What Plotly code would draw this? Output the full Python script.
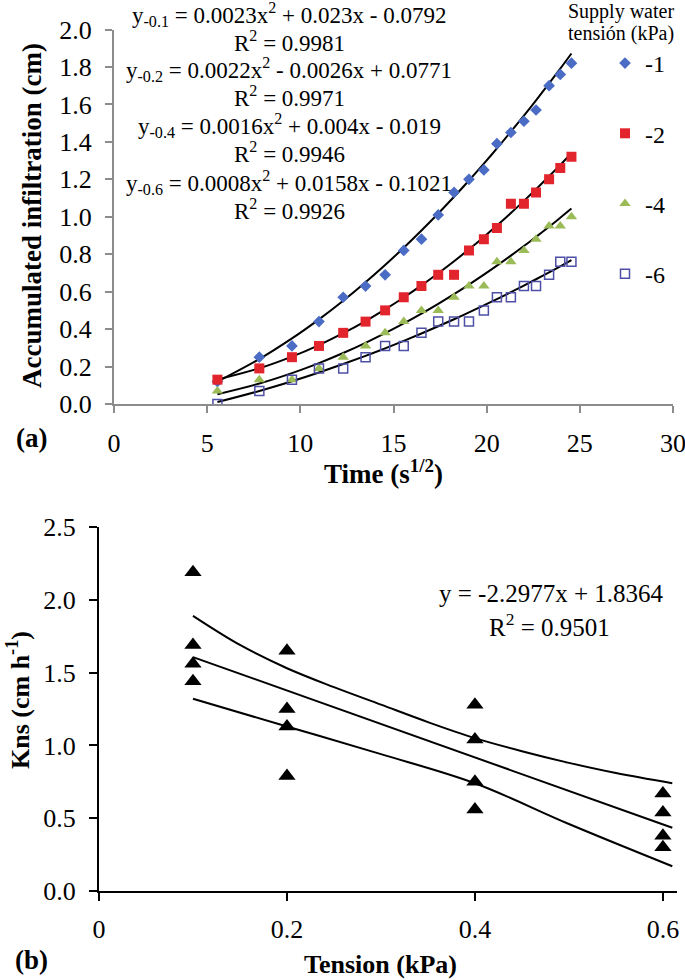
import numpy as np
import plotly.graph_objects as go

# (a) accumulated infiltration vs sqrt(time)
time_sqrt = [5.55, 7.8, 9.55, 11.0, 12.3, 13.5, 14.55, 15.55, 16.5, 17.4,
             18.25, 19.05, 19.85, 20.55, 21.3, 22.0, 22.65, 23.35, 23.95, 24.55]
inf_1 = [0.12, 0.25, 0.31, 0.44, 0.57, 0.63, 0.69, 0.82, 0.88, 1.01,
         1.13, 1.20, 1.25, 1.39, 1.45, 1.51, 1.57, 1.70, 1.76, 1.82]
inf_2 = [0.13, 0.19, 0.25, 0.31, 0.38, 0.44, 0.50, 0.57, 0.63, 0.69,
         0.69, 0.82, 0.88, 0.94, 1.07, 1.07, 1.13, 1.20, 1.26, 1.32]
inf_4 = [0.07, 0.13, 0.13, 0.19, 0.25, 0.31, 0.38, 0.44, 0.50, 0.50,
         0.57, 0.63, 0.63, 0.76, 0.76, 0.82, 0.88, 0.95, 0.95, 1.00]
inf_6 = [0.00, 0.07, 0.13, 0.19, 0.19, 0.25, 0.31, 0.31, 0.38, 0.44,
         0.44, 0.44, 0.50, 0.57, 0.57, 0.63, 0.63, 0.69, 0.76, 0.76]
series_names = ["-1", "-2", "-4", "-6"]
# trendline coefficients as printed on the chart (a, b, c)
fit_coefs = [[0.0023, 0.023, -0.0792],
             [0.0022, -0.0026, 0.0771],
             [0.0016, 0.004, -0.019],
             [0.0008, 0.0158, -0.1021]]
fit_labels = ["y<sub>-0.1</sub> = 0.0023x<sup>2</sup> + 0.023x - 0.0792", "R<sup>2</sup> = 0.9981",
              "y<sub>-0.2</sub> = 0.0022x<sup>2</sup> - 0.0026x + 0.0771", "R<sup>2</sup> = 0.9971",
              "y<sub>-0.4</sub> = 0.0016x<sup>2</sup> + 0.004x - 0.019", "R<sup>2</sup> = 0.9946",
              "y<sub>-0.6</sub> = 0.0008x<sup>2</sup> + 0.0158x - 0.1021", "R<sup>2</sup> = 0.9926"]

# (b) Kns vs tension
tension = [0.1, 0.1, 0.1, 0.1, 0.2, 0.2, 0.2, 0.2, 0.4, 0.4, 0.4, 0.4, 0.6, 0.6, 0.6, 0.6]
kns = [2.19, 1.69, 1.56, 1.44, 1.65, 1.25, 1.13, 0.79, 1.28, 1.04, 0.75, 0.56, 0.67, 0.54, 0.38, 0.30]
reg_slope, reg_icpt = -2.2977, 1.8364
reg_x = [0.1, 0.61]
band_up_x = [0.1, 0.15, 0.2, 0.25, 0.3, 0.35, 0.4, 0.45, 0.5, 0.55, 0.61]
band_up_y = [1.89, 1.69, 1.53, 1.40, 1.28, 1.16, 1.05, 0.96, 0.88, 0.81, 0.74]
band_lo_x = [0.1, 0.2, 0.3, 0.4, 0.5, 0.61]
band_lo_y = [1.32, 1.13, 0.94, 0.74, 0.46, 0.17]

W, H = 685, 980
FONT = "Liberation Serif, Times New Roman, serif"


def px(x):
    return x / W


def py(y):
    return 1 - y / H


fig = go.Figure()

styles = [dict(symbol="diamond", color="#4A6CC4", size=9),
          dict(symbol="square", color="#E2242C", size=10),
          dict(symbol="triangle-up", color="#9BBB59", size=10),
          dict(symbol="square-open", color="#4E4FA6", size=9, line=dict(width=1.5, color="#4E4FA6"))]
all_inf = [inf_1, inf_2, inf_4, inf_6]

for i, name in enumerate(series_names):
    a, b, c = fit_coefs[i]
    xs = np.array(time_sqrt)
    fig.add_trace(go.Scatter(x=xs, y=a * xs ** 2 + b * xs + c, mode="lines",
                             line=dict(color="black", width=2, shape="spline"),
                             showlegend=False, hoverinfo="skip", xaxis="x", yaxis="y"))
for i, name in enumerate(series_names):
    fig.add_trace(go.Scatter(x=time_sqrt, y=all_inf[i], mode="markers", name=name,
                             legendgroup=name, marker=styles[i], xaxis="x", yaxis="y"))

fig.add_trace(go.Scatter(x=tension, y=kns, mode="markers", showlegend=False,
                         marker=dict(symbol="triangle-up", color="black", size=15),
                         xaxis="x2", yaxis="y2"))
rx = np.array(reg_x)
fig.add_trace(go.Scatter(x=rx, y=reg_slope * rx + reg_icpt, mode="lines", showlegend=False,
                         line=dict(color="black", width=2), xaxis="x2", yaxis="y2"))
fig.add_trace(go.Scatter(x=band_up_x, y=band_up_y, mode="lines", showlegend=False,
                         line=dict(color="black", width=2, shape="spline"), xaxis="x2", yaxis="y2"))
fig.add_trace(go.Scatter(x=band_lo_x, y=band_lo_y, mode="lines", showlegend=False,
                         line=dict(color="black", width=2, shape="spline"), xaxis="x2", yaxis="y2"))

grey = "#8C8C8C"
ax_common = dict(showgrid=False, zeroline=False, showline=True, linewidth=2, automargin=False,
                 ticklabeloverflow="allow", ticks="outside", tickwidth=2,
                 tickfont=dict(size=26, family=FONT, color="black"))


def note(x, y, text, size, angle=0):
    return dict(x=px(x), y=py(y), xref="paper", yref="paper", text=text, textangle=angle,
                xanchor="center", yanchor="middle", showarrow=False,
                font=dict(size=size, family=FONT, color="black"))


annotations = []
eq_y = [15, 42, 70, 97, 126, 153, 182, 209]
for txt, yy in zip(fit_labels, eq_y):
    annotations.append(note(289, yy, txt, 23))
annotations += [
    note(621, 11, "Supply water", 20),
    note(621, 34, "tensión (kPa)", 20),
    note(32, 216, "<b>Accumulated infiltration (cm)</b>", 27, -90),
    note(383, 472, "<b>Time (s<sup>1/2</sup>)</b>", 27),
    note(32, 438, "<b>(a)</b>", 27),
    note(551, 593, "y = -2.2977x + 1.8364", 25),
    note(549, 625, "R<sup>2</sup> = 0.9501", 25),
    note(18, 700, "<b>Kns (cm h<sup>-1</sup>)</b>", 26, -90),
    note(380, 964, "<b>Tension (kPa)</b>", 26),
    note(32, 960, "<b>(b)</b>", 27),
]

fig.update_layout(
    template="none",
    width=W, height=H,
    margin=dict(l=0, r=0, t=0, b=0),
    paper_bgcolor="white", plot_bgcolor="white",
    font=dict(family=FONT, color="black", size=24),
    xaxis=dict(domain=[px(114), px(673)], range=[0, 30], tickvals=[0, 5, 10, 15, 20, 25, 30],
               anchor="y", linecolor=grey, tickcolor=grey, ticklen=7, ticklabelstandoff=8, **ax_common),
    yaxis=dict(domain=[py(404), py(29.5)], range=[0, 2.0], dtick=0.2, tickformat=".1f",
               anchor="x", linecolor=grey, tickcolor=grey, ticklen=7, ticklabelstandoff=8, **ax_common),
    xaxis2=dict(domain=[px(99), px(677)], range=[0, 0.615], tickvals=[0, 0.2, 0.4, 0.6],
                ticktext=["0", "0.2", "0.4", "0.6"], anchor="y2", linecolor="black",
                tickcolor="black", ticklen=8, ticklabelstandoff=6, **ax_common),
    yaxis2=dict(domain=[py(891), py(527)], range=[0, 2.5], dtick=0.5, tickformat=".1f",
                anchor="x2", linecolor="black", tickcolor="black", ticklen=8,
                ticklabelstandoff=8, **ax_common),
    legend=dict(x=px(605), y=py(41), xanchor="left", yanchor="top", bgcolor="rgba(0,0,0,0)",
                font=dict(size=24, family=FONT), tracegroupgap=36, itemwidth=30),
    annotations=annotations,
    showlegend=True,
)

page_fix = ("document.body.style.margin='0px';"
            "document.body.style.overflow='hidden';"
            "document.documentElement.style.overflow='hidden';")
fig.write_html("out.html", config={"displayModeBar": False}, post_script=page_fix)
